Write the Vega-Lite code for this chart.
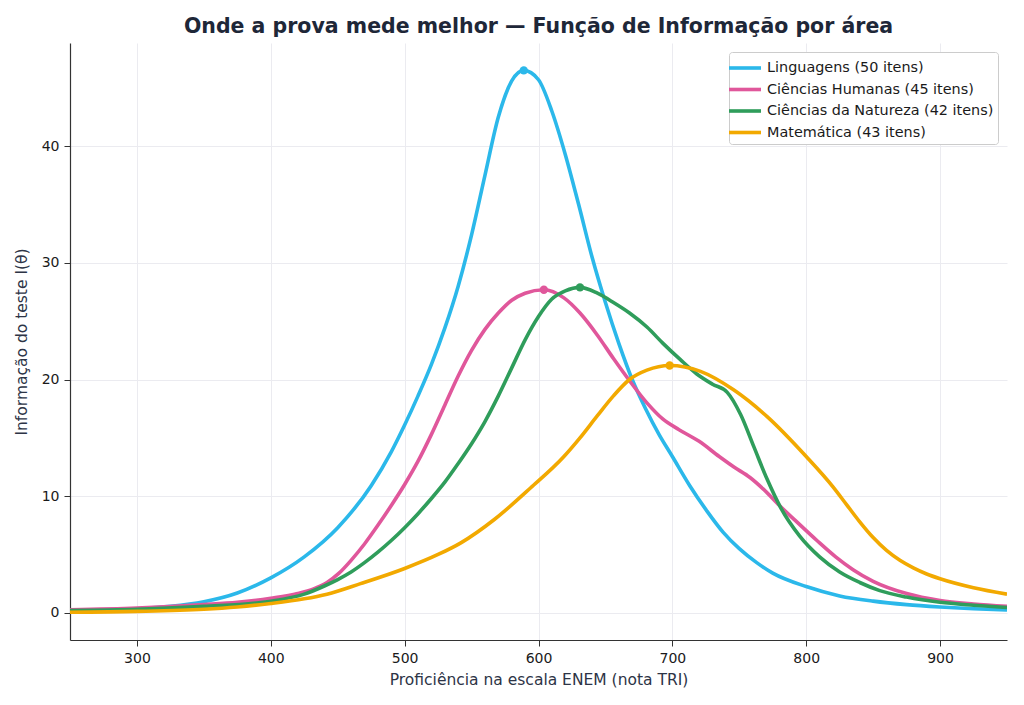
{
  "$schema": "https://vega.github.io/schema/vega-lite/v6.json",
  "width": 937,
  "height": 597,
  "autosize": {"type": "none"},
  "padding": {"left": 70, "top": 43, "right": 17, "bottom": 65},
  "background": "white",
  "title": {
    "text": "Onde a prova mede melhor — Função de Informação por área",
    "font": "DejaVu Sans",
    "fontSize": 20.5,
    "fontWeight": "bold",
    "color": "#1e2738",
    "anchor": "middle",
    "offset": 6
  },
  "datasets": {
    "curvas": [
      {"area": "Linguagens (50 itens)", "x": 250, "y": 0.2},
      {"area": "Linguagens (50 itens)", "x": 275, "y": 0.25},
      {"area": "Linguagens (50 itens)", "x": 300, "y": 0.35},
      {"area": "Linguagens (50 itens)", "x": 325, "y": 0.55},
      {"area": "Linguagens (50 itens)", "x": 350, "y": 0.95},
      {"area": "Linguagens (50 itens)", "x": 375, "y": 1.7},
      {"area": "Linguagens (50 itens)", "x": 400, "y": 3.0},
      {"area": "Linguagens (50 itens)", "x": 425, "y": 4.8},
      {"area": "Linguagens (50 itens)", "x": 450, "y": 7.3},
      {"area": "Linguagens (50 itens)", "x": 475, "y": 10.9},
      {"area": "Linguagens (50 itens)", "x": 490, "y": 13.8},
      {"area": "Linguagens (50 itens)", "x": 500, "y": 16.1},
      {"area": "Linguagens (50 itens)", "x": 510, "y": 18.6},
      {"area": "Linguagens (50 itens)", "x": 520, "y": 21.3},
      {"area": "Linguagens (50 itens)", "x": 530, "y": 24.4},
      {"area": "Linguagens (50 itens)", "x": 540, "y": 28.0},
      {"area": "Linguagens (50 itens)", "x": 550, "y": 32.4},
      {"area": "Linguagens (50 itens)", "x": 560, "y": 37.5},
      {"area": "Linguagens (50 itens)", "x": 570, "y": 42.5},
      {"area": "Linguagens (50 itens)", "x": 580, "y": 45.6},
      {"area": "Linguagens (50 itens)", "x": 589, "y": 46.5},
      {"area": "Linguagens (50 itens)", "x": 600, "y": 45.7},
      {"area": "Linguagens (50 itens)", "x": 610, "y": 43.0},
      {"area": "Linguagens (50 itens)", "x": 620, "y": 39.3},
      {"area": "Linguagens (50 itens)", "x": 630, "y": 35.0},
      {"area": "Linguagens (50 itens)", "x": 640, "y": 30.5},
      {"area": "Linguagens (50 itens)", "x": 650, "y": 26.6},
      {"area": "Linguagens (50 itens)", "x": 660, "y": 23.1},
      {"area": "Linguagens (50 itens)", "x": 670, "y": 20.0},
      {"area": "Linguagens (50 itens)", "x": 680, "y": 17.5},
      {"area": "Linguagens (50 itens)", "x": 690, "y": 15.3},
      {"area": "Linguagens (50 itens)", "x": 700, "y": 13.4},
      {"area": "Linguagens (50 itens)", "x": 713, "y": 10.9},
      {"area": "Linguagens (50 itens)", "x": 726, "y": 8.7},
      {"area": "Linguagens (50 itens)", "x": 738, "y": 6.9},
      {"area": "Linguagens (50 itens)", "x": 750, "y": 5.5},
      {"area": "Linguagens (50 itens)", "x": 763, "y": 4.3},
      {"area": "Linguagens (50 itens)", "x": 775, "y": 3.4},
      {"area": "Linguagens (50 itens)", "x": 800, "y": 2.25},
      {"area": "Linguagens (50 itens)", "x": 825, "y": 1.45},
      {"area": "Linguagens (50 itens)", "x": 850, "y": 1.0},
      {"area": "Linguagens (50 itens)", "x": 875, "y": 0.7},
      {"area": "Linguagens (50 itens)", "x": 900, "y": 0.5},
      {"area": "Linguagens (50 itens)", "x": 925, "y": 0.35},
      {"area": "Linguagens (50 itens)", "x": 950, "y": 0.25},

      {"area": "Ciências Humanas (45 itens)", "x": 250, "y": 0.25},
      {"area": "Ciências Humanas (45 itens)", "x": 300, "y": 0.4},
      {"area": "Ciências Humanas (45 itens)", "x": 350, "y": 0.7},
      {"area": "Ciências Humanas (45 itens)", "x": 375, "y": 0.9},
      {"area": "Ciências Humanas (45 itens)", "x": 400, "y": 1.25},
      {"area": "Ciências Humanas (45 itens)", "x": 420, "y": 1.65},
      {"area": "Ciências Humanas (45 itens)", "x": 432, "y": 2.05},
      {"area": "Ciências Humanas (45 itens)", "x": 442, "y": 2.6},
      {"area": "Ciências Humanas (45 itens)", "x": 451, "y": 3.4},
      {"area": "Ciências Humanas (45 itens)", "x": 460, "y": 4.5},
      {"area": "Ciências Humanas (45 itens)", "x": 470, "y": 5.9},
      {"area": "Ciências Humanas (45 itens)", "x": 480, "y": 7.5},
      {"area": "Ciências Humanas (45 itens)", "x": 490, "y": 9.2},
      {"area": "Ciências Humanas (45 itens)", "x": 500, "y": 11.0},
      {"area": "Ciências Humanas (45 itens)", "x": 510, "y": 13.0},
      {"area": "Ciências Humanas (45 itens)", "x": 520, "y": 15.3},
      {"area": "Ciências Humanas (45 itens)", "x": 530, "y": 17.8},
      {"area": "Ciências Humanas (45 itens)", "x": 540, "y": 20.3},
      {"area": "Ciências Humanas (45 itens)", "x": 550, "y": 22.5},
      {"area": "Ciências Humanas (45 itens)", "x": 560, "y": 24.3},
      {"area": "Ciências Humanas (45 itens)", "x": 570, "y": 25.7},
      {"area": "Ciências Humanas (45 itens)", "x": 580, "y": 26.8},
      {"area": "Ciências Humanas (45 itens)", "x": 590, "y": 27.4},
      {"area": "Ciências Humanas (45 itens)", "x": 604, "y": 27.7},
      {"area": "Ciências Humanas (45 itens)", "x": 619, "y": 27.0},
      {"area": "Ciências Humanas (45 itens)", "x": 631, "y": 25.7},
      {"area": "Ciências Humanas (45 itens)", "x": 644, "y": 23.8},
      {"area": "Ciências Humanas (45 itens)", "x": 656, "y": 21.8},
      {"area": "Ciências Humanas (45 itens)", "x": 668, "y": 19.9},
      {"area": "Ciências Humanas (45 itens)", "x": 681, "y": 18.0},
      {"area": "Ciências Humanas (45 itens)", "x": 693, "y": 16.6},
      {"area": "Ciências Humanas (45 itens)", "x": 705, "y": 15.7},
      {"area": "Ciências Humanas (45 itens)", "x": 720, "y": 14.7},
      {"area": "Ciências Humanas (45 itens)", "x": 735, "y": 13.4},
      {"area": "Ciências Humanas (45 itens)", "x": 746, "y": 12.5},
      {"area": "Ciências Humanas (45 itens)", "x": 758, "y": 11.6},
      {"area": "Ciências Humanas (45 itens)", "x": 768, "y": 10.6},
      {"area": "Ciências Humanas (45 itens)", "x": 780, "y": 9.2},
      {"area": "Ciências Humanas (45 itens)", "x": 792, "y": 7.9},
      {"area": "Ciências Humanas (45 itens)", "x": 808, "y": 6.2},
      {"area": "Ciências Humanas (45 itens)", "x": 822, "y": 4.8},
      {"area": "Ciências Humanas (45 itens)", "x": 835, "y": 3.7},
      {"area": "Ciências Humanas (45 itens)", "x": 850, "y": 2.7},
      {"area": "Ciências Humanas (45 itens)", "x": 875, "y": 1.65},
      {"area": "Ciências Humanas (45 itens)", "x": 900, "y": 1.05},
      {"area": "Ciências Humanas (45 itens)", "x": 925, "y": 0.75},
      {"area": "Ciências Humanas (45 itens)", "x": 950, "y": 0.55},

      {"area": "Ciências da Natureza (42 itens)", "x": 250, "y": 0.2},
      {"area": "Ciências da Natureza (42 itens)", "x": 300, "y": 0.3},
      {"area": "Ciências da Natureza (42 itens)", "x": 350, "y": 0.55},
      {"area": "Ciências da Natureza (42 itens)", "x": 400, "y": 1.0},
      {"area": "Ciências da Natureza (42 itens)", "x": 425, "y": 1.6},
      {"area": "Ciências da Natureza (42 itens)", "x": 440, "y": 2.3},
      {"area": "Ciências da Natureza (42 itens)", "x": 450, "y": 2.85},
      {"area": "Ciências da Natureza (42 itens)", "x": 460, "y": 3.5},
      {"area": "Ciências da Natureza (42 itens)", "x": 470, "y": 4.3},
      {"area": "Ciências da Natureza (42 itens)", "x": 480, "y": 5.2},
      {"area": "Ciências da Natureza (42 itens)", "x": 490, "y": 6.2},
      {"area": "Ciências da Natureza (42 itens)", "x": 500, "y": 7.3},
      {"area": "Ciências da Natureza (42 itens)", "x": 510, "y": 8.5},
      {"area": "Ciências da Natureza (42 itens)", "x": 520, "y": 9.8},
      {"area": "Ciências da Natureza (42 itens)", "x": 530, "y": 11.2},
      {"area": "Ciências da Natureza (42 itens)", "x": 540, "y": 12.8},
      {"area": "Ciências da Natureza (42 itens)", "x": 550, "y": 14.5},
      {"area": "Ciências da Natureza (42 itens)", "x": 560, "y": 16.4},
      {"area": "Ciências da Natureza (42 itens)", "x": 570, "y": 18.6},
      {"area": "Ciências da Natureza (42 itens)", "x": 580, "y": 21.0},
      {"area": "Ciências da Natureza (42 itens)", "x": 590, "y": 23.4},
      {"area": "Ciências da Natureza (42 itens)", "x": 600, "y": 25.4},
      {"area": "Ciências da Natureza (42 itens)", "x": 610, "y": 26.9},
      {"area": "Ciências da Natureza (42 itens)", "x": 620, "y": 27.6},
      {"area": "Ciências da Natureza (42 itens)", "x": 631, "y": 27.9},
      {"area": "Ciências da Natureza (42 itens)", "x": 644, "y": 27.4},
      {"area": "Ciências da Natureza (42 itens)", "x": 656, "y": 26.6},
      {"area": "Ciências da Natureza (42 itens)", "x": 668, "y": 25.7},
      {"area": "Ciências da Natureza (42 itens)", "x": 681, "y": 24.5},
      {"area": "Ciências da Natureza (42 itens)", "x": 693, "y": 23.1},
      {"area": "Ciências da Natureza (42 itens)", "x": 706, "y": 21.7},
      {"area": "Ciências da Natureza (42 itens)", "x": 718, "y": 20.5},
      {"area": "Ciências da Natureza (42 itens)", "x": 730, "y": 19.6},
      {"area": "Ciências da Natureza (42 itens)", "x": 741, "y": 18.9},
      {"area": "Ciências da Natureza (42 itens)", "x": 751, "y": 17.0},
      {"area": "Ciências da Natureza (42 itens)", "x": 761, "y": 14.2},
      {"area": "Ciências da Natureza (42 itens)", "x": 771, "y": 11.4},
      {"area": "Ciências da Natureza (42 itens)", "x": 781, "y": 9.0},
      {"area": "Ciências da Natureza (42 itens)", "x": 795, "y": 6.6},
      {"area": "Ciências da Natureza (42 itens)", "x": 810, "y": 4.8},
      {"area": "Ciências da Natureza (42 itens)", "x": 825, "y": 3.5},
      {"area": "Ciências da Natureza (42 itens)", "x": 840, "y": 2.6},
      {"area": "Ciências da Natureza (42 itens)", "x": 855, "y": 1.9},
      {"area": "Ciências da Natureza (42 itens)", "x": 875, "y": 1.35},
      {"area": "Ciências da Natureza (42 itens)", "x": 900, "y": 0.9},
      {"area": "Ciências da Natureza (42 itens)", "x": 925, "y": 0.65},
      {"area": "Ciências da Natureza (42 itens)", "x": 950, "y": 0.45},

      {"area": "Matemática (43 itens)", "x": 250, "y": 0.05},
      {"area": "Matemática (43 itens)", "x": 300, "y": 0.12},
      {"area": "Matemática (43 itens)", "x": 350, "y": 0.3},
      {"area": "Matemática (43 itens)", "x": 375, "y": 0.5},
      {"area": "Matemática (43 itens)", "x": 400, "y": 0.8},
      {"area": "Matemática (43 itens)", "x": 425, "y": 1.2},
      {"area": "Matemática (43 itens)", "x": 442, "y": 1.6},
      {"area": "Matemática (43 itens)", "x": 467, "y": 2.5},
      {"area": "Matemática (43 itens)", "x": 500, "y": 3.8},
      {"area": "Matemática (43 itens)", "x": 525, "y": 5.0},
      {"area": "Matemática (43 itens)", "x": 542, "y": 6.0},
      {"area": "Matemática (43 itens)", "x": 567, "y": 8.0},
      {"area": "Matemática (43 itens)", "x": 594, "y": 10.7},
      {"area": "Matemática (43 itens)", "x": 619, "y": 13.4},
      {"area": "Matemática (43 itens)", "x": 631, "y": 15.0},
      {"area": "Matemática (43 itens)", "x": 644, "y": 16.9},
      {"area": "Matemática (43 itens)", "x": 656, "y": 18.6},
      {"area": "Matemática (43 itens)", "x": 668, "y": 20.0},
      {"area": "Matemática (43 itens)", "x": 681, "y": 20.8},
      {"area": "Matemática (43 itens)", "x": 698, "y": 21.2},
      {"area": "Matemática (43 itens)", "x": 721, "y": 20.7},
      {"area": "Matemática (43 itens)", "x": 746, "y": 19.1},
      {"area": "Matemática (43 itens)", "x": 771, "y": 16.8},
      {"area": "Matemática (43 itens)", "x": 800, "y": 13.4},
      {"area": "Matemática (43 itens)", "x": 820, "y": 10.8},
      {"area": "Matemática (43 itens)", "x": 830, "y": 9.3},
      {"area": "Matemática (43 itens)", "x": 840, "y": 7.8},
      {"area": "Matemática (43 itens)", "x": 850, "y": 6.45},
      {"area": "Matemática (43 itens)", "x": 860, "y": 5.35},
      {"area": "Matemática (43 itens)", "x": 870, "y": 4.5},
      {"area": "Matemática (43 itens)", "x": 880, "y": 3.85},
      {"area": "Matemática (43 itens)", "x": 890, "y": 3.33},
      {"area": "Matemática (43 itens)", "x": 900, "y": 2.92},
      {"area": "Matemática (43 itens)", "x": 925, "y": 2.15},
      {"area": "Matemática (43 itens)", "x": 950, "y": 1.6}
    ],
    "picos": [
      {"area": "Linguagens (50 itens)", "x": 589, "y": 46.5},
      {"area": "Ciências Humanas (45 itens)", "x": 604, "y": 27.7},
      {"area": "Ciências da Natureza (42 itens)", "x": 631, "y": 27.9},
      {"area": "Matemática (43 itens)", "x": 698, "y": 21.2}
    ]
  },
  "encoding": {
    "x": {
      "field": "x",
      "type": "quantitative",
      "title": "Proficiência na escala ENEM (nota TRI)",
      "scale": {"domain": [250, 950], "nice": false, "zero": false},
      "axis": {"values": [300, 400, 500, 600, 700, 800, 900]}
    },
    "y": {
      "field": "y",
      "type": "quantitative",
      "title": "Informação do teste  I(θ)",
      "scale": {"domain": [-2.33, 48.85], "nice": false, "zero": false},
      "axis": {"values": [0, 10, 20, 30, 40]}
    },
    "color": {
      "field": "area",
      "type": "nominal",
      "title": null,
      "scale": {
        "domain": [
          "Linguagens (50 itens)",
          "Ciências Humanas (45 itens)",
          "Ciências da Natureza (42 itens)",
          "Matemática (43 itens)"
        ],
        "range": ["#2bb8ea", "#e0579b", "#2f9d5b", "#f2a900"]
      },
      "legend": {"symbolType": "M-1.6,0H1.6"}
    }
  },
  "layer": [
    {
      "data": {"name": "curvas"},
      "mark": {"type": "line", "interpolate": "monotone", "strokeWidth": 3.6, "clip": true},
      "encoding": {"order": {"field": "x", "type": "quantitative"}}
    },
    {
      "data": {"name": "picos"},
      "mark": {"type": "point", "filled": true, "opacity": 1, "size": 70}
    }
  ],
  "config": {
    "font": "DejaVu Sans",
    "view": {"stroke": null},
    "axis": {
      "labelFont": "DejaVu Sans",
      "labelFontSize": 14,
      "labelColor": "#1a1a1a",
      "titleFont": "DejaVu Sans",
      "titleFontSize": 15.5,
      "titleFontWeight": "normal",
      "titleColor": "#2d3446",
      "domainColor": "#333333",
      "domainWidth": 1.2,
      "tickColor": "#333333",
      "tickSize": 6,
      "tickWidth": 1,
      "labelPadding": 5,
      "gridColor": "#ebebf0",
      "gridWidth": 1
    },
    "axisX": {"titlePadding": 7, "labelFlush": false},
    "axisY": {"titlePadding": 12},
    "legend": {
      "orient": "top-right",
      "offset": 9,
      "labelFont": "DejaVu Sans",
      "labelFontSize": 14.4,
      "labelColor": "#1a1a1a",
      "labelLimit": 400,
      "symbolStrokeWidth": 3.6,
      "symbolSize": 400,
      "rowPadding": 1.5,
      "padding": 4,
      "strokeColor": "#cccccc",
      "fillColor": "white",
      "cornerRadius": 3,
      "labelOffset": 10
    }
  }
}
